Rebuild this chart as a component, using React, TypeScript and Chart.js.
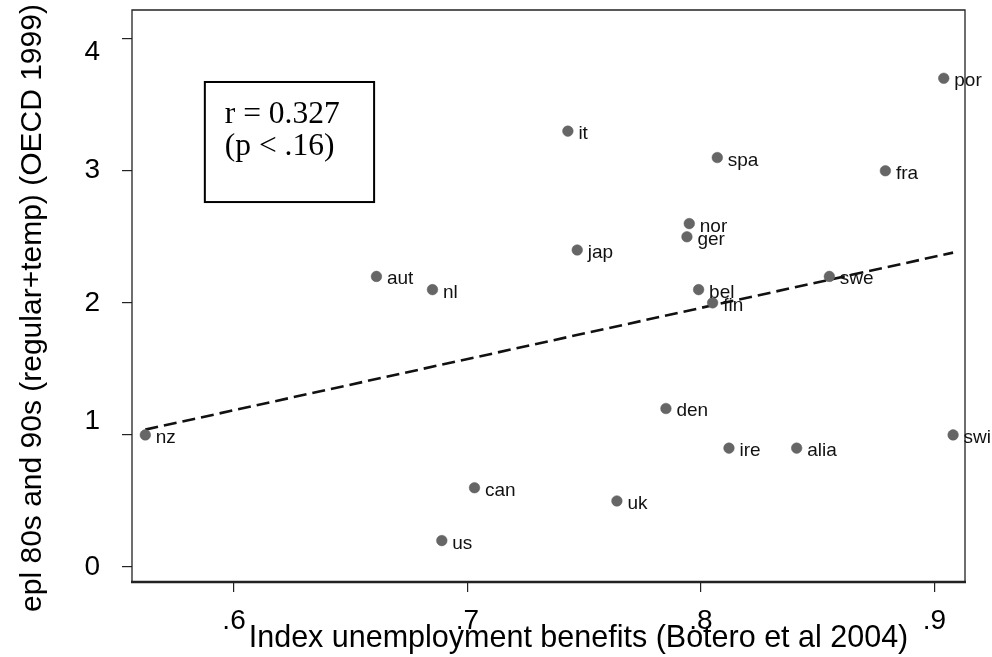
import React, { useEffect, useRef } from 'react';
import { Chart, registerables } from 'chart.js';

Chart.register(...registerables);

// ---- data ----
const countries = ['nz', 'aut', 'nl', 'us', 'can', 'it', 'jap', 'uk', 'den', 'ger', 'nor', 'bel', 'fin', 'spa', 'ire', 'alia', 'swe', 'fra', 'por', 'swi'];
const benefitsIndex = [0.562, 0.661, 0.685, 0.689, 0.703, 0.743, 0.747, 0.764, 0.785, 0.794, 0.795, 0.799, 0.805, 0.807, 0.812, 0.841, 0.855, 0.879, 0.904, 0.908];
const eplValues = [1.0, 2.2, 2.1, 0.2, 0.6, 3.3, 2.4, 0.5, 1.2, 2.5, 2.6, 2.1, 2.0, 3.1, 0.9, 0.9, 2.2, 3.0, 3.7, 1.0];
const fitLineX = [0.562, 0.908];
const fitLineY = [1.04, 2.38];

const xTickValues = [0.6, 0.7, 0.8, 0.9];
const xTickLabels = ['.6', '.7', '.8', '.9'];
const yTickValues = [0, 1, 2, 3, 4];
const yTickLabels = ['0', '1', '2', '3', '4'];
const xRange = [0.5563, 0.9131];
const yRange = [-0.1136, 4.217];

const xTitle = 'Index unemployment benefits (Botero et al 2004)';
const yTitle = 'epl 80s and 90s (regular+temp) (OECD 1999)';

const statsLines = ['r = 0.327', '(p < .16)'];
const statsBoxX = [0.5875, 0.66];
const statsBoxY = [2.763, 3.672];

// styling: some y labels in the original sit slightly off their ticks
const yLabelNudge: Record<string, 'up' | 'down'> = { '4': 'down', '1': 'up' };

const SANS = '"Liberation Sans", Arial, sans-serif';
const SERIF = '"Liberation Serif", "Times New Roman", serif';

const framePlugin = {
  id: 'frame',
  afterDatasetsDraw(chart: any) {
    const { ctx, chartArea } = chart;
    const { left, right, top, bottom } = chartArea;
    ctx.save();
    ctx.strokeStyle = '#222';
    ctx.lineWidth = 1.3;
    ctx.beginPath();
    ctx.moveTo(left, bottom);
    ctx.lineTo(left, top);
    ctx.lineTo(right, top);
    ctx.lineTo(right, bottom);
    ctx.stroke();
    ctx.lineWidth = 2.6;
    ctx.beginPath();
    ctx.moveTo(left - 1, bottom);
    ctx.lineTo(right + 1, bottom);
    ctx.stroke();
    ctx.restore();
  },
};

const axisTitlePlugin = {
  id: 'axisTitles',
  afterDraw(chart: any) {
    const { ctx, chartArea } = chart;
    ctx.save();
    ctx.fillStyle = '#000';
    ctx.textAlign = 'center';
    ctx.textBaseline = 'alphabetic';
    ctx.font = '30.5px ' + SANS;
    const cx = (chartArea.left + chartArea.right) / 2 + 30;
    ctx.fillText(xTitle, cx, chartArea.bottom + 65);
    ctx.translate(41, (chartArea.top + chartArea.bottom) / 2 + 12);
    ctx.rotate(-Math.PI / 2);
    ctx.font = '30px ' + SANS;
    ctx.fillText(yTitle, 0, 0);
    ctx.restore();
  },
};

const labelPlugin = {
  id: 'pointLabels',
  afterDatasetsDraw(chart: any) {
    const { ctx } = chart;
    const meta = chart.getDatasetMeta(0);
    ctx.save();
    ctx.font = '19px ' + SANS;
    ctx.fillStyle = '#111';
    ctx.textAlign = 'left';
    ctx.textBaseline = 'alphabetic';
    meta.data.forEach((pt: any, i: number) => {
      ctx.fillText(countries[i], pt.x + 10.5, pt.y + 8);
    });
    ctx.restore();
  },
};

const statsPlugin = {
  id: 'statsBox',
  afterDatasetsDraw(chart: any) {
    const { ctx, scales } = chart;
    const x0 = scales.x.getPixelForValue(statsBoxX[0]);
    const x1 = scales.x.getPixelForValue(statsBoxX[1]);
    const y0 = scales.y.getPixelForValue(statsBoxY[1]);
    const y1 = scales.y.getPixelForValue(statsBoxY[0]);
    ctx.save();
    ctx.strokeStyle = '#000';
    ctx.lineWidth = 2;
    ctx.strokeRect(x0, y0, x1 - x0, y1 - y0);
    ctx.fillStyle = '#000';
    ctx.font = '31.5px ' + SERIF;
    ctx.textAlign = 'left';
    ctx.textBaseline = 'alphabetic';
    statsLines.forEach((t, i) => {
      ctx.fillText(t, x0 + 20, y0 + 41 + i * 32);
    });
    ctx.restore();
  },
};

export default function App() {
  const ref = useRef<HTMLCanvasElement | null>(null);

  useEffect(() => {
    if (!ref.current) return;
    const points = benefitsIndex.map((x, i) => ({ x, y: eplValues[i] }));
    const fit = fitLineX.map((x, i) => ({ x, y: fitLineY[i] }));
    const chart = new Chart(ref.current, {
      type: 'scatter',
      data: {
        datasets: [
          {
            label: 'epl',
            data: points,
            backgroundColor: '#666666',
            borderColor: '#5a5a5a',
            borderWidth: 0.5,
            pointRadius: 5.3,
            pointHoverRadius: 5.3,
          },
          {
            type: 'line',
            label: 'fit',
            data: fit,
            borderColor: '#111',
            borderWidth: 2.6,
            borderDash: [13, 6],
            pointRadius: 0,
            fill: false,
          } as any,
        ],
      },
      options: {
        animation: false,
        responsive: true,
        maintainAspectRatio: false,
        layout: { padding: { top: 10, right: 27, left: 0, bottom: 0 } },
        plugins: {
          legend: { display: false },
          tooltip: { enabled: false },
        },
        scales: {
          x: {
            type: 'linear',
            min: xRange[0],
            max: xRange[1],
            afterBuildTicks: (s: any) => {
              s.ticks = xTickValues.map((v) => ({ value: v }));
            },
            afterFit: (s: any) => {
              s.height = 75;
              s.paddingLeft = 0;
              s.paddingRight = 0;
            },
            ticks: {
              autoSkip: false,
              maxRotation: 0,
              padding: 12,
              color: '#000',
              font: { family: SANS, size: 28 },
              callback: (v: any) => xTickLabels[xTickValues.indexOf(Number(v))] ?? '',
            },
            grid: { display: true, drawOnChartArea: false, drawTicks: true, tickLength: 10, color: '#222', lineWidth: 1.2 },
            border: { display: false },
            title: { display: false },
          },
          y: {
            type: 'linear',
            min: yRange[0],
            max: yRange[1],
            afterBuildTicks: (s: any) => {
              s.ticks = yTickValues.map((v) => ({ value: v }));
            },
            afterFit: (s: any) => {
              s.width = 132;
              s.paddingTop = 0;
              s.paddingBottom = 0;
            },
            ticks: {
              autoSkip: false,
              padding: 22,
              color: '#000',
              font: { family: SANS, size: 28, lineHeight: 1.0 },
              callback: (v: any) => {
                const lab = yTickLabels[yTickValues.indexOf(Number(v))] ?? '';
                const n = yLabelNudge[lab];
                if (n === 'down') return ['', lab];
                if (n === 'up') return [lab, ''];
                return lab;
              },
            },
            grid: { display: true, drawOnChartArea: false, drawTicks: true, tickLength: 10, color: '#222', lineWidth: 1.2 },
            border: { display: false },
            title: { display: false },
          },
        },
      },
      plugins: [framePlugin, statsPlugin, labelPlugin, axisTitlePlugin],
    });
    return () => chart.destroy();
  }, []);

  return (
    <div style={{ position: 'absolute', left: 0, top: 0, width: 992, height: 657, background: '#fff' }}>
      <canvas ref={ref} />
    </div>
  );
}
